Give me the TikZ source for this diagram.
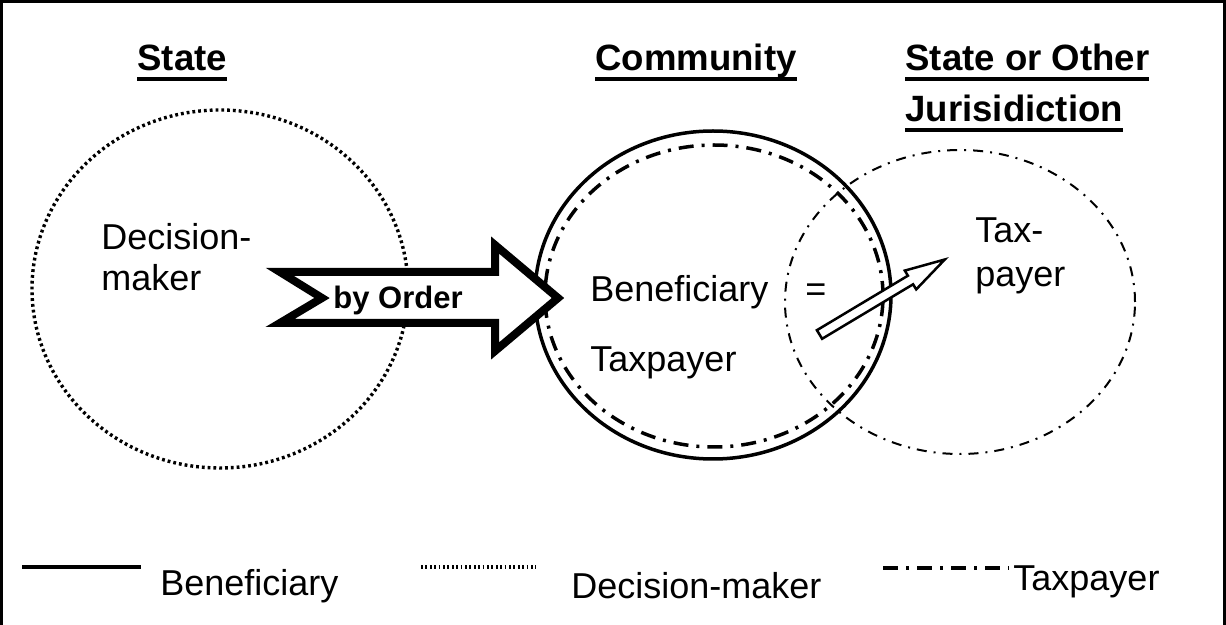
\documentclass[tikz,border=0pt]{standalone}
\usepackage{fontspec}
\setmainfont{Liberation Sans}
\usetikzlibrary{shapes.geometric}
\newcommand\hul[1]{\setbox0\hbox{#1}\rlap{\rule[-5pt]{\wd0}{2pt}}\box0}
\begin{document}
\begin{tikzpicture}[x=0.5pt,y=-0.5pt,
  solidln/.style={line width=1.75pt},
  dotln/.style={line width=1.7pt, dash pattern=on 1.4pt off 1.5pt},
  legdot/.style={line width=2.2pt, dash pattern=on 0.9pt off 1.3pt},
  dashdotbig/.style={line width=1.75pt, dash pattern=on 7.5pt off 4pt on 1.5pt off 4pt},
  dashdotthin/.style={line width=1pt, dash pattern=on 5pt off 3.5pt on 1pt off 3.5pt},
  region/.style={ellipse, inner sep=0pt, draw},
  lbl/.style={font=\fontsize{18}{21}\selectfont, inner sep=0pt, anchor=base west},
  headlbl/.style={font=\fontsize{18.3}{21}\selectfont\bfseries, inner sep=0pt, anchor=base west},
  blockarrow/.style={draw, fill=white, line width=4pt, miter limit=20},
  smallarrow/.style={draw, fill=white, line width=1.25pt}
]
\useasboundingbox (0,0) rectangle (1226,625);
% frame
\draw[line width=1.5pt] (1.5,640) -- (1.5,1.5) -- (1224.5,1.5) -- (1224.5,640);

% headings
\node[headlbl] (hstate) at (137,71) {\hul{State}};
\node[headlbl] (hcomm) at (595,71) {\hul{Community}};
\node[headlbl] (hother1) at (905,71) {\hul{State or Other}};
\node[headlbl] (hother2) at (905,122) {\hul{Jurisidiction}};

% regions
\node[region, dotln, minimum width=188pt, minimum height=179pt] (state) at (220,289) {};
\node[region, dashdotthin, minimum width=175pt, minimum height=152pt] (other) at (960,302) {};
\node[region, solidln, minimum width=178pt, minimum height=164pt] (comm) at (713,295) {};
\node[region, dashdotbig, minimum width=169pt, minimum height=151pt] (commtax) at (714,296) {};

% big arrow "by Order"
\draw[blockarrow] (280,272) -- (495,272) -- (495,245) -- (558,298) -- (495,351) -- (495,323) -- (280,323) -- (322,298) -- cycle;
\node[font=\fontsize{15.5}{18}\selectfont\bfseries, inner sep=0pt] (order) at (398,300) {by Order};

% small arrow
\draw[smallarrow] (816.9,330.2) -- (907.9,275.7) -- (904.8,270.6) -- (944.8,259.5) -- (916.2,289.4) -- (913.1,284.3) -- (822.1,338.8) -- cycle;

% texts
\node[lbl] (dm1) at (101,250) {Decision-};
\node[lbl] (dm2) at (101,291) {maker};
\node[lbl] (ben) at (590,302) {Beneficiary};
\node[lbl] (eq) at (805,302) {=};
\node[lbl] (tax) at (590,372) {Taxpayer};
\node[lbl] (tx1) at (975,243) {Tax-};
\node[lbl] (tx2) at (975,287) {payer};

% legend
\draw[solidln] (22,567) -- (141,567);
\node[lbl] (lgben) at (160,595) {Beneficiary};
\draw[legdot] (421,567) -- (536,567);
\node[lbl] (lgdm) at (571,598) {Decision-maker};
\draw[dashdotbig] (883,568) -- (1009,568);
\node[lbl] (lgtax) at (1013,590) {Taxpayer};
\end{tikzpicture}
\end{document}
